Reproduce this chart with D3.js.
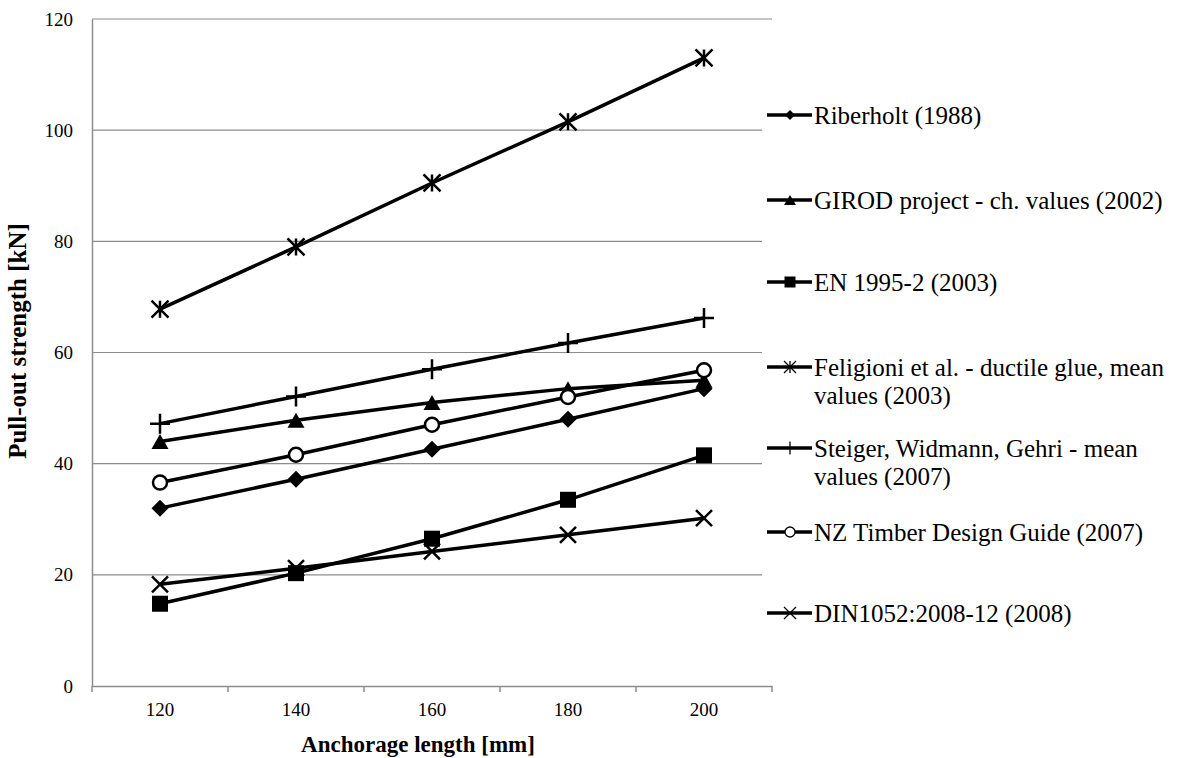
<!DOCTYPE html>
<html>
<head>
<meta charset="utf-8">
<script src="https://cdn.jsdelivr.net/npm/d3@7"></script>
<style>
  body { margin: 0; background: #fff; }
  svg text { font-family: "Liberation Serif", "Times New Roman", serif; fill: #000; }
</style>
</head>
<body>
<svg id="chart" width="1182" height="758"></svg>
<script>
// data
var categories = ["120", "140", "160", "180", "200"];
var yTicks = [0, 20, 40, 60, 80, 100, 120];

var riberholt = [32.0, 37.2, 42.6, 48.0, 53.5];
var girod     = [44.0, 47.8, 51.0, 53.5, 55.0];
var en1995    = [14.8, 20.3, 26.5, 33.5, 41.5];
var feligioni = [67.8, 79.0, 90.5, 101.5, 113.0];
var steiger   = [47.2, 52.1, 57.0, 61.7, 66.2];
var nzTimber  = [36.6, 41.6, 47.0, 52.0, 56.8];
var din1052   = [18.3, 21.2, 24.2, 27.2, 30.2];

var seriesNames = [
  ["Riberholt (1988)"],
  ["GIROD project - ch. values (2002)"],
  ["EN 1995-2 (2003)"],
  ["Feligioni et al. - ductile glue, mean", "values (2003)"],
  ["Steiger, Widmann, Gehri - mean", "values (2007)"],
  ["NZ Timber Design Guide (2007)"],
  ["DIN1052:2008-12 (2008)"]
];
var seriesValues = [riberholt, girod, en1995, feligioni, steiger, nzTimber, din1052];
var seriesMarkers = ["diamond", "triangle", "square", "asterisk", "plus", "circle", "cross"];

(function() {
var svg = d3.select("#chart");
var pLeft = 92, pRight = 772, pTop = 19, pBottom = 686;

var x = d3.scaleBand().domain(categories).range([pLeft, pRight]).padding(0);
var y = d3.scaleLinear().domain([0, 120]).range([pBottom, pTop]);

// gridlines
svg.append("g").selectAll("line").data(yTicks.filter(function(d){ return d > 0; }))
  .enter().append("line")
  .attr("x1", pLeft).attr("x2", pRight)
  .attr("y1", function(d){ return y(d); }).attr("y2", function(d){ return y(d); })
  .attr("stroke", "#8c8c8c").attr("stroke-width", 1.2);

// y axis
var yAxis = svg.append("g").attr("transform", "translate(" + pLeft + ",0)")
  .call(d3.axisLeft(y).tickValues(yTicks).tickSize(0).tickPadding(19));
yAxis.select(".domain").attr("stroke", "#8c8c8c").attr("stroke-width", 1.5);
yAxis.selectAll("text").attr("font-size", 19).attr("font-family", "Liberation Serif");

// x axis (category axis, ticks between categories)
var xAxis = svg.append("g").attr("transform", "translate(0," + pBottom + ")")
  .call(d3.axisBottom(x).tickSize(0).tickPadding(17));
xAxis.select(".domain").attr("stroke", "#8c8c8c").attr("stroke-width", 1.5);
xAxis.selectAll("text").attr("font-size", 19).attr("font-family", "Liberation Serif");
var bounds = categories.map(function(c){ return x(c); }).concat([pRight]);
xAxis.selectAll("line.sep").data(bounds).enter().append("line")
  .attr("class", "sep")
  .attr("x1", function(d){ return d; }).attr("x2", function(d){ return d; })
  .attr("y1", 0).attr("y2", 6)
  .attr("stroke", "#8c8c8c").attr("stroke-width", 1.5);

// axis titles
svg.append("text").attr("x", 418).attr("y", 752)
  .attr("text-anchor", "middle").attr("font-weight", "bold").attr("font-size", 23)
  .text("Anchorage length [mm]");
svg.append("text").attr("transform", "translate(26,341) rotate(-90)")
  .attr("text-anchor", "middle").attr("font-weight", "bold").attr("font-size", 25)
  .text("Pull-out strength [kN]");

// marker shapes
function markerPath(type, s) {
  var h = s / 2;
  if (type === "diamond") return "M0," + (-h) + "L" + h + ",0L0," + h + "L" + (-h) + ",0Z";
  if (type === "square") return "M" + (-h) + "," + (-h) + "h" + s + "v" + s + "h" + (-s) + "Z";
  if (type === "triangle") return "M0," + (-h) + "L" + (h + 1) + "," + h + "L" + (-h - 1) + "," + h + "Z";
  if (type === "circle") return d3.arc()({innerRadius: 0, outerRadius: h, startAngle: 0, endAngle: 2 * Math.PI});
  if (type === "cross") return "M" + (-h) + "," + (-h) + "L" + h + "," + h + "M" + h + "," + (-h) + "L" + (-h) + "," + h;
  if (type === "plus") return "M" + (-h) + ",0H" + h + "M0," + (-h) + "V" + h;
  if (type === "asterisk") return "M" + (-h) + "," + (-h) + "L" + h + "," + h + "M" + h + "," + (-h) + "L" + (-h) + "," + h + "M0," + (-h) + "V" + h;
}
function styleMarker(sel, type, sw) {
  if (type === "circle") sel.attr("fill", "#fff").attr("stroke", "#000").attr("stroke-width", sw);
  else if (type === "cross" || type === "plus" || type === "asterisk") sel.attr("fill", "none").attr("stroke", "#000").attr("stroke-width", sw);
  else sel.attr("fill", "#000").attr("stroke", "none");
}
var plotSize = {diamond: 17, square: 16, triangle: 15, circle: 14, cross: 16, plus: 20, asterisk: 17};
var legendSize = {diamond: 10, square: 11, triangle: 10, circle: 10, cross: 12, plus: 13, asterisk: 12};

var line = d3.line()
  .x(function(d, i){ return x(categories[i]) + x.bandwidth() / 2; })
  .y(function(d){ return y(d); });

seriesValues.forEach(function(vals, k) {
  var g = svg.append("g");
  g.append("path").datum(vals).attr("d", line)
    .attr("fill", "none").attr("stroke", "#000").attr("stroke-width", 3.5);
  g.selectAll("path.m").data(vals).enter().append("path").attr("class", "m")
    .attr("transform", function(d, i){ return "translate(" + (x(categories[i]) + x.bandwidth() / 2) + "," + y(d) + ")"; })
    .attr("d", markerPath(seriesMarkers[k], plotSize[seriesMarkers[k]]))
    .call(styleMarker, seriesMarkers[k], 2.5);
});

// legend
var legendY = [115, 200, 282, 367, 448, 532, 613];
svg.append("rect").attr("x", 762).attr("y", 60).attr("width", 420).attr("height", 610).attr("fill", "#fff");
var lg = svg.append("g");
seriesNames.forEach(function(lines, k) {
  var cy = legendY[k];
  lg.append("line").attr("x1", 767).attr("x2", 812).attr("y1", cy).attr("y2", cy)
    .attr("stroke", "#000").attr("stroke-width", 3.5);
  lg.append("path").attr("transform", "translate(790," + cy + ")")
    .attr("d", markerPath(seriesMarkers[k], legendSize[seriesMarkers[k]]))
    .call(styleMarker, seriesMarkers[k], 1.3);
  lines.forEach(function(t, j) {
    lg.append("text").attr("x", 814).attr("y", cy + j * 28).attr("dy", "0.35em")
      .attr("font-size", 25).text(t);
  });
});
})();
</script>
</body>
</html>
